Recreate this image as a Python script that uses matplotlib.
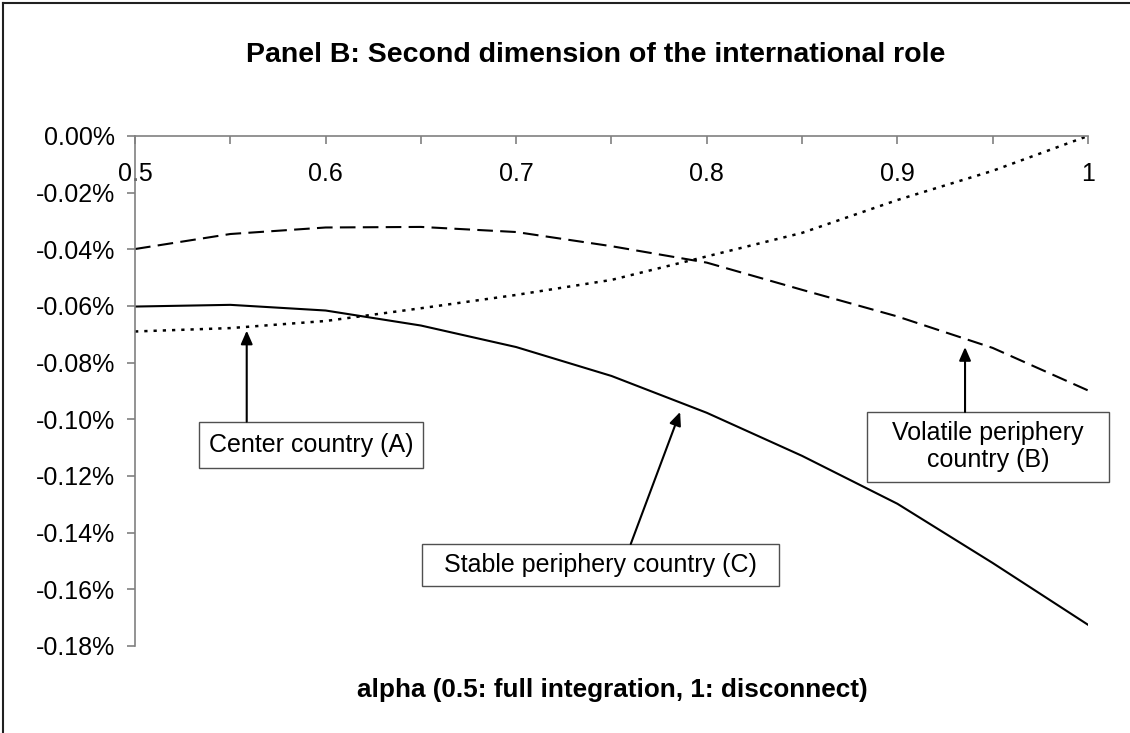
import matplotlib
matplotlib.use('Agg')
import matplotlib.pyplot as plt
from matplotlib.patches import Rectangle
from matplotlib.lines import Line2D
from matplotlib.ticker import FuncFormatter, MultipleLocator

plt.rcParams['font.family'] = ['Liberation Sans', 'DejaVu Sans']

# Data (values in percent)
alpha = [0.5, 0.55, 0.6, 0.65, 0.7, 0.75, 0.8, 0.85, 0.9, 0.95, 1.0]
center_a = [-0.0690, -0.0678, -0.0653, -0.0608, -0.0561, -0.0508,
            -0.0425, -0.0342, -0.0226, -0.0123, 0.0000]
volatile_b = [-0.0399, -0.0346, -0.0323, -0.0321, -0.0339, -0.0389,
              -0.0447, -0.0543, -0.0637, -0.0748, -0.0898]
stable_c = [-0.0602, -0.0596, -0.0616, -0.0669, -0.0745, -0.0847,
            -0.0977, -0.1129, -0.1298, -0.1507, -0.1725]

fig = plt.figure(figsize=(11.3, 7.33), dpi=100)
ax = fig.add_axes([0.1195, 0.1187, 0.8433, 0.6958])

ax.plot(alpha, center_a, color='black', lw=1.8, dashes=(1.3, 2.4))
ax.plot(alpha, volatile_b, color='black', lw=1.5, dashes=(7.5, 3.5))
ax.plot(alpha, stable_c, color='black', lw=1.5)

ax.set_xlim(0.5, 1.0)
ax.set_ylim(-0.18, 0.0)

# axis styling (Excel look: x axis at top, y axis on left)
for s in ['bottom', 'right']:
    ax.spines[s].set_visible(False)
for s in ['top', 'left']:
    ax.spines[s].set_color('#808080')
    ax.spines[s].set_linewidth(1.2)

ax.xaxis.set_major_locator(MultipleLocator(0.1))
ax.xaxis.set_minor_locator(MultipleLocator(0.05))
ax.xaxis.set_major_formatter(FuncFormatter(lambda v, p: '%g' % round(v, 2)))
ax.tick_params(axis='x', which='both', top=True, bottom=False, labeltop=True,
               labelbottom=False, direction='in', length=5.5, width=1.2,
               color='#808080', labelsize=18, pad=-36)
ax.yaxis.set_major_locator(MultipleLocator(0.02))
ax.yaxis.set_major_formatter(FuncFormatter(lambda v, p: '%.2f%%' % v))
ax.tick_params(axis='y', direction='out', length=5.5, width=1.2,
               color='#808080', labelsize=18, pad=9)

# title and x label
fig.text(0.527, 0.925, 'Panel B: Second dimension of the international role',
         fontsize=20.5, weight='bold', ha='center', va='center')
fig.text(0.542, 0.059, 'alpha (0.5: full integration, 1: disconnect)',
         fontsize=18.8, weight='bold', ha='center', va='center')

# annotation boxes: (x0, y0, x1, y1) in data coords, text, arrow base, arrow tip
notes = [
    ((0.5336, -0.1173, 0.6512, -0.1008), 'Center country (A)',
     (0.5586, -0.1008), (0.5586, -0.0687)),
    ((0.6506, -0.1587, 0.8380, -0.1440), 'Stable periphery country (C)',
     (0.7601, -0.1440), (0.7860, -0.0974)),
    ((0.8840, -0.1220, 1.0110, -0.0974), 'Volatile periphery\ncountry (B)',
     (0.9355, -0.0974), (0.9355, -0.0745)),
]
for (x0, y0, x1, y1), label, base, tip in notes:
    ax.add_patch(Rectangle((x0, y0), x1 - x0, y1 - y0, facecolor='white',
                           edgecolor='#505050', lw=1.0, zorder=4, clip_on=False))
    ax.text((x0 + x1) / 2, (y0 + y1) / 2, label, fontsize=18, ha='center',
            va='center', zorder=5, linespacing=1.15, clip_on=False)
    ax.annotate('', xy=tip, xytext=base,
                arrowprops=dict(arrowstyle='-|>,head_width=0.35,head_length=0.8',
                                color='black', lw=1.5, shrinkA=0, shrinkB=0),
                zorder=5)

# outer frame (left and top edges)
fig.add_artist(Line2D([0.003, 0.003], [0, 0.996], color='#202020', lw=1.5))
fig.add_artist(Line2D([0.003, 1.0], [0.996, 0.996], color='#202020', lw=1.5))

fig.savefig('out.png', dpi=100, facecolor='white')
